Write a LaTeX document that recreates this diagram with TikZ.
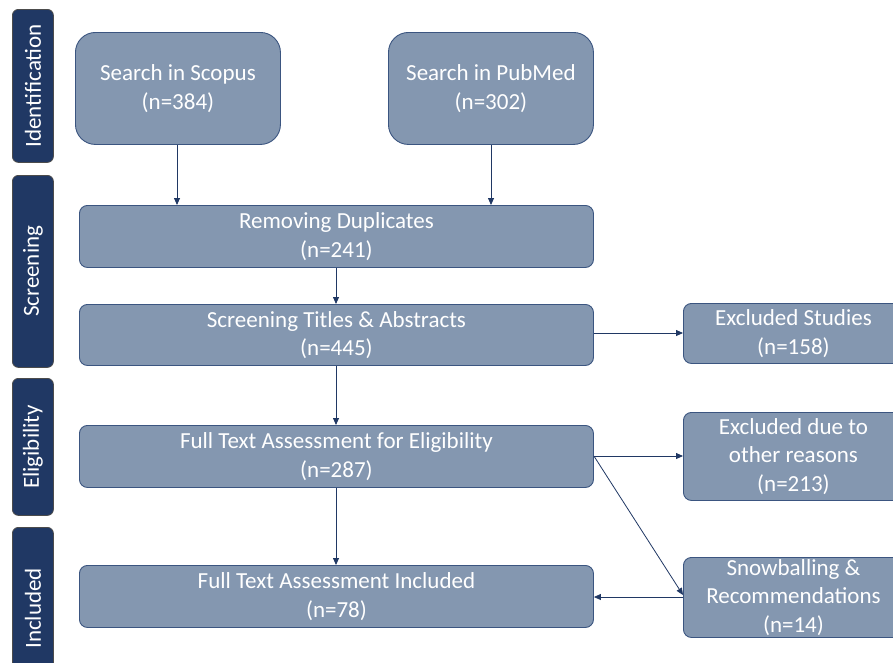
\documentclass[tikz,border=0pt]{standalone}
\usepackage{fontspec}
\setmainfont{Carlito}
\usetikzlibrary{arrows.meta}
\definecolor{boxfill}{HTML}{8497B0}
\definecolor{boxline}{HTML}{3B5580}
\definecolor{barfill}{HTML}{203864}
\definecolor{arrowc}{HTML}{203864}
\tikzset{
  box/.style={draw=boxline, fill=boxfill, line width=0.9pt, anchor=north west, inner sep=0pt,
    text=white, align=center, font=\fontsize{23}{28.5}\selectfont},
  bar/.style={draw=black!70, fill=barfill, line width=0.8pt, rounded corners=6pt, anchor=north west, inner sep=0pt},
  bartext/.style={rotate=90, text=white, font=\fontsize{23}{28}\selectfont},
  conn/.style={draw=arrowc, line width=0.8pt, -{Triangle[length=7pt,width=6pt]}},
}
\begin{document}
\begin{tikzpicture}[x=1pt,y=-1pt]
\useasboundingbox (0,0) rectangle (893,662);
\clip (0,0) rectangle (893,662);
\fill[white] (0,0) rectangle (893,662);
% phase bars
\node[bar, minimum width=41pt, minimum height=153pt] (b1) at (12,9) {};
\node[bartext] (t1) at (b1.center) {Identification};
\node[bar, minimum width=41pt, minimum height=192pt] (b2) at (12,175) {};
\node[bartext] (t2) at (b2.center) {Screening};
\node[bar, minimum width=41pt, minimum height=137pt] (b3) at (12,378) {};
\node[bartext] (t3) at (b3.center) {Eligibility};
\node[bar, minimum width=41pt, minimum height=150pt] (b4) at (12,527) {};
\node[bartext] (t4) at ([yshift=-6pt]b4.center) {Included};
% boxes
\node[box, rounded corners=20pt, minimum width=205pt, minimum height=112pt] (scopus) at (75,32) {Search in Scopus\\(n=384)};
\node[box, rounded corners=20pt, minimum width=205pt, minimum height=112pt] (pubmed) at (388,32) {Search in PubMed\\(n=302)};
\node[box, rounded corners=8pt, minimum width=514pt, minimum height=62pt] (dup) at (79,205) {Removing Duplicates\\(n=241)};
\node[box, rounded corners=8pt, minimum width=514pt, minimum height=61pt] (screen) at (79,304) {Screening Titles \& Abstracts\\(n=445)};
\node[box, rounded corners=8pt, minimum width=514pt, minimum height=62pt] (elig) at (79,425) {Full Text Assessment for Eligibility\\(n=287)};
\node[box, rounded corners=8pt, minimum width=514pt, minimum height=62pt] (incl) at (79,565) {Full Text Assessment Included\\(n=78)};
\node[box, rounded corners=8pt, minimum width=220pt, minimum height=60pt] (exs) at (683,303) {Excluded Studies\\(n=158)};
\node[box, rounded corners=8pt, minimum width=220pt, minimum height=88pt] (exo) at (683,412) {Excluded due to\\other reasons\\(n=213)};
\node[box, rounded corners=8pt, minimum width=220pt, minimum height=80pt] (snow) at (683,557) {Snowballing \&\\Recommendations\\(n=14)};
% connectors
\draw[conn] (scopus.south -| 177,0) -- (dup.north -| 177,0);
\draw[conn] (pubmed.south -| 491,0) -- (dup.north -| 491,0);
\draw[conn] (dup.south -| 336,0) -- (screen.north -| 336,0);
\draw[conn] (screen.south -| 336,0) -- (elig.north -| 336,0);
\draw[conn] (elig.south -| 336,0) -- (incl.north -| 336,0);
\draw[conn] (screen.east |- 0,333) -- (exs.west |- 0,333);
\draw[conn] (elig.east |- 0,456) -- (exo.west |- 0,456);
\draw[conn] (elig.east |- 0,456) -- (snow.west |- 0,595);
\draw[conn] (snow.west |- 0,597) -- (incl.east |- 0,597);
\end{tikzpicture}
\end{document}
